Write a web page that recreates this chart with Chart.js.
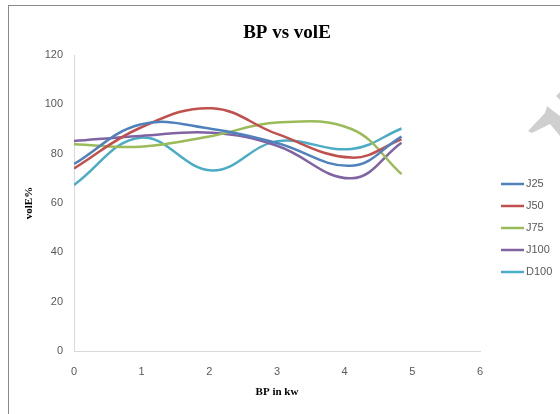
<!DOCTYPE html>
<html>
<head>
<meta charset="utf-8">
<script src="https://cdn.jsdelivr.net/npm/chart.js@4/dist/chart.umd.min.js"></script>
<style>
  body { margin: 0; background: #fff; }
</style>
</head>
<body>
<canvas id="chart" width="560" height="414"></canvas>
<script>
// brake power (kW) and volumetric efficiency (%) per fuel blend
const bp = [0, 0.98, 2.04, 3.0, 4.1, 4.84];
const j25 = [75.8, 91.8, 90.0, 84.3, 75.1, 86.9];
const j50 = [74.0, 90.5, 98.4, 88.0, 78.4, 85.8];
const j75 = [83.8, 82.8, 87.2, 92.6, 90.0, 71.7];
const j100 = [85.1, 87.2, 88.5, 83.2, 70.0, 84.4];
const d100 = [67.3, 86.5, 73.2, 85.0, 81.9, 90.2];

const seriesNames = ["J25", "J50", "J75", "J100", "D100"];
const seriesValues = [j25, j50, j75, j100, d100];
const seriesColors = ["#4F81BD", "#C0504D", "#9BBB59", "#8064A2", "#4BACC6"];

const labelGray = "#595959";
const sansFont = "'Liberation Sans', Arial, sans-serif";
const serifFont = "'Liberation Serif', 'Times New Roman', serif";

function toPoints(values) {
  return values.map((v, i) => ({ x: bp[i], y: v }));
}

// outer frame, title and the right-hand legend
const decorations = {
  id: "decorations",
  beforeDraw(chart) {
    const ctx = chart.ctx;
    ctx.save();
    ctx.fillStyle = "#fff";
    ctx.fillRect(0, 0, chart.width, chart.height);
    ctx.strokeStyle = "#8a8a8a";
    ctx.lineWidth = 1;
    ctx.strokeRect(8.5, 5.5, 700, 600);

    // faint stamp in the corner
    ctx.fillStyle = "#cfcfcf";
    ctx.beginPath();
    ctx.moveTo(528, 131);
    ctx.lineTo(545, 113);
    ctx.lineTo(547, 106);
    ctx.lineTo(552, 110);
    ctx.lineTo(560, 116);
    ctx.lineTo(560, 136);
    ctx.lineTo(550, 124);
    ctx.lineTo(532, 133);
    ctx.closePath();
    ctx.fill();
    ctx.beginPath();
    ctx.moveTo(556, 96);
    ctx.lineTo(560, 92);
    ctx.lineTo(560, 100);
    ctx.closePath();
    ctx.fill();
    ctx.restore();
  },
  afterDraw(chart) {
    const ctx = chart.ctx;
    ctx.save();
    ctx.fillStyle = "#000";
    ctx.font = "bold 19px " + serifFont;
    ctx.textAlign = "center";
    ctx.textBaseline = "alphabetic";
    ctx.fillText("BP vs volE", 287, 38);

    ctx.font = "11px " + sansFont;
    ctx.textAlign = "left";
    ctx.textBaseline = "middle";
    chart.data.datasets.forEach((ds, i) => {
      const y = 184 + i * 22;
      ctx.strokeStyle = ds.borderColor;
      ctx.lineWidth = 2.5;
      ctx.beginPath();
      ctx.moveTo(501, y);
      ctx.lineTo(524, y);
      ctx.stroke();
      ctx.fillStyle = labelGray;
      ctx.fillText(ds.label, 526, y);
    });
    ctx.restore();
  }
};

new Chart(document.getElementById("chart"), {
  type: "line",
  data: {
    datasets: seriesNames.map((name, i) => ({
      label: name,
      data: toPoints(seriesValues[i]),
      borderColor: seriesColors[i],
      backgroundColor: seriesColors[i],
      borderWidth: 2.5,
      pointRadius: 0,
      tension: 0.4,
      fill: false
    }))
  },
  options: {
    responsive: false,
    animation: false,
    layout: { padding: { left: 8, top: 55, right: 80, bottom: 0 } },
    plugins: {
      legend: { display: false },
      title: { display: false },
      tooltip: { enabled: false }
    },
    scales: {
      x: {
        type: "linear",
        min: 0,
        max: 6,
        afterFit: (s) => { s.height = 63; },
        grid: { display: false, drawTicks: false },
        border: { color: "#d9d9d9", width: 1 },
        ticks: {
          stepSize: 1,
          padding: 14,
          color: labelGray,
          font: { family: sansFont, size: 11 }
        },
        title: {
          display: true,
          text: "BP in kw",
          color: "#000",
          font: { family: serifFont, size: 11, weight: "bold" },
          padding: { top: 0, bottom: 15 }
        }
      },
      y: {
        min: 0,
        max: 120,
        afterFit: (s) => { s.width = 66; },
        grid: { display: false, drawTicks: false },
        border: { color: "#d9d9d9", width: 1 },
        ticks: {
          stepSize: 20,
          padding: 11,
          color: labelGray,
          font: { family: sansFont, size: 11 }
        },
        title: {
          display: true,
          text: "volE%",
          color: "#000",
          font: { family: serifFont, size: 11, weight: "bold" },
          padding: { top: 15, bottom: 0 }
        }
      }
    }
  },
  plugins: [decorations]
});
</script>
</body>
</html>
